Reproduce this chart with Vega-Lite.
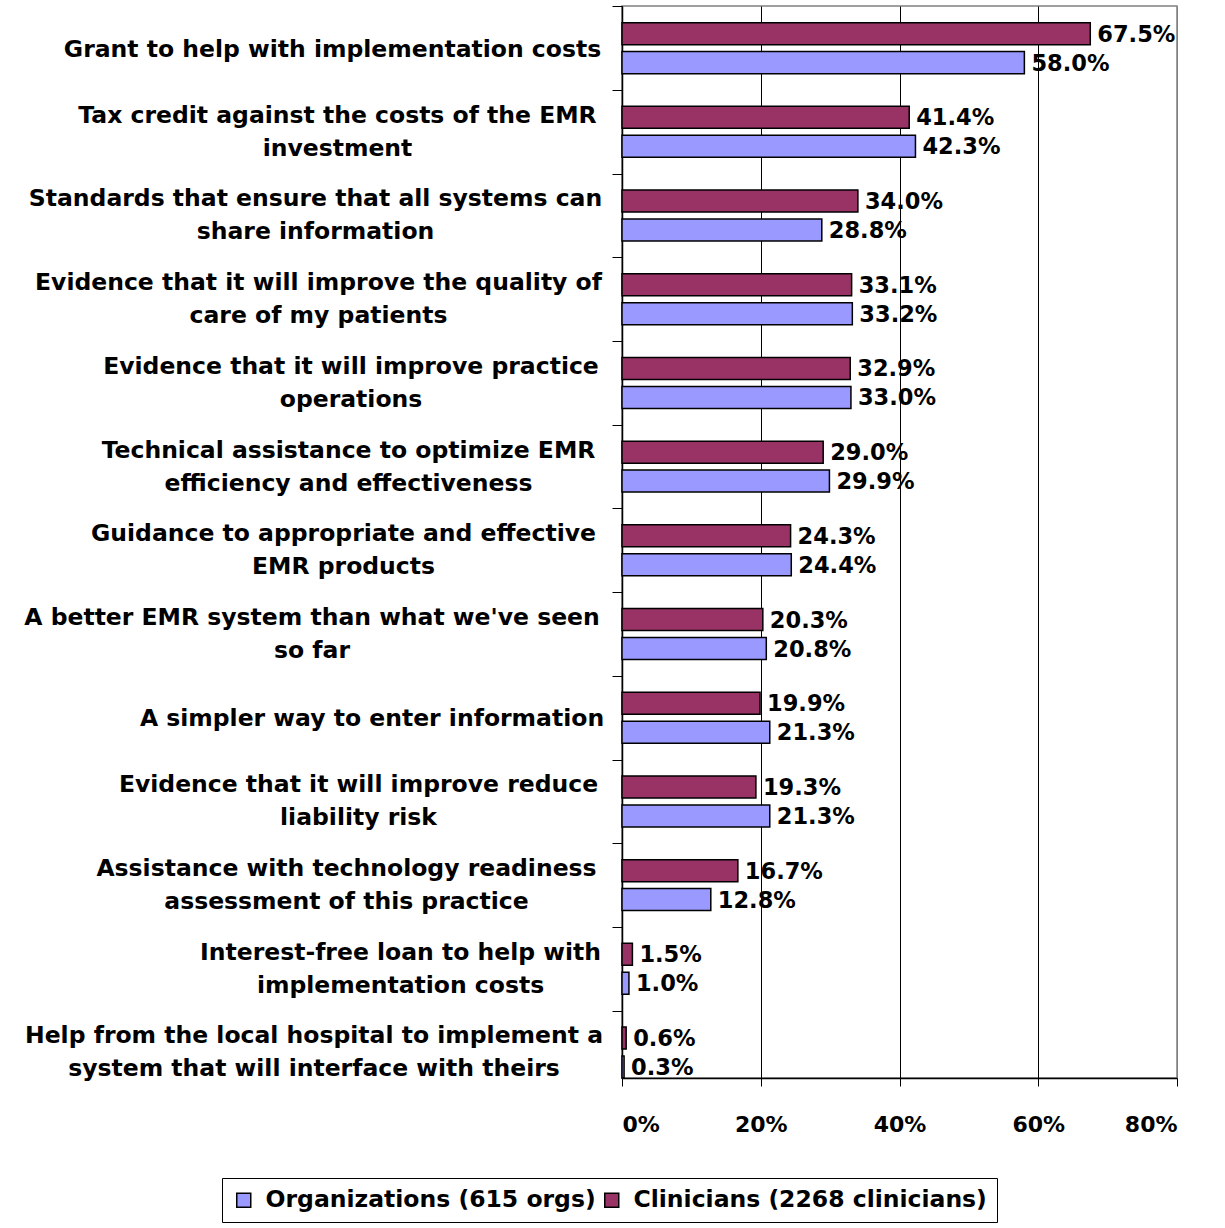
{
  "$schema": "https://vega.github.io/schema/vega-lite/v6.json",
  "autosize": {"type": "none"},
  "width": 555,
  "height": 1072,
  "padding": {"left": 622, "top": 6, "right": 48, "bottom": 150},
  "background": "white",
  "config": {
    "view": {"stroke": "#808080", "strokeWidth": 1.5},
    "font": "DejaVu Sans"
  },
  "data": {
    "values": [
      {"item": "Grant to help with implementation costs", "group": "Clinicians (2268 clinicians)", "value": 0.675},
      {"item": "Grant to help with implementation costs", "group": "Organizations (615 orgs)", "value": 0.580},
      {"item": "Tax credit against the costs of the EMR\ninvestment", "group": "Clinicians (2268 clinicians)", "value": 0.414},
      {"item": "Tax credit against the costs of the EMR\ninvestment", "group": "Organizations (615 orgs)", "value": 0.423},
      {"item": "Standards that ensure that all systems can\nshare information", "group": "Clinicians (2268 clinicians)", "value": 0.340},
      {"item": "Standards that ensure that all systems can\nshare information", "group": "Organizations (615 orgs)", "value": 0.288},
      {"item": "Evidence that it will improve the quality of\ncare of my patients", "group": "Clinicians (2268 clinicians)", "value": 0.331},
      {"item": "Evidence that it will improve the quality of\ncare of my patients", "group": "Organizations (615 orgs)", "value": 0.332},
      {"item": "Evidence that it will improve practice\noperations", "group": "Clinicians (2268 clinicians)", "value": 0.329},
      {"item": "Evidence that it will improve practice\noperations", "group": "Organizations (615 orgs)", "value": 0.330},
      {"item": "Technical assistance to optimize EMR\nefficiency and effectiveness", "group": "Clinicians (2268 clinicians)", "value": 0.290},
      {"item": "Technical assistance to optimize EMR\nefficiency and effectiveness", "group": "Organizations (615 orgs)", "value": 0.299},
      {"item": "Guidance to appropriate and effective\nEMR products", "group": "Clinicians (2268 clinicians)", "value": 0.243},
      {"item": "Guidance to appropriate and effective\nEMR products", "group": "Organizations (615 orgs)", "value": 0.244},
      {"item": "A better EMR system than what we've seen\nso far", "group": "Clinicians (2268 clinicians)", "value": 0.203},
      {"item": "A better EMR system than what we've seen\nso far", "group": "Organizations (615 orgs)", "value": 0.208},
      {"item": "A simpler way to enter information", "group": "Clinicians (2268 clinicians)", "value": 0.199},
      {"item": "A simpler way to enter information", "group": "Organizations (615 orgs)", "value": 0.213},
      {"item": "Evidence that it will improve reduce\nliability risk", "group": "Clinicians (2268 clinicians)", "value": 0.193},
      {"item": "Evidence that it will improve reduce\nliability risk", "group": "Organizations (615 orgs)", "value": 0.213},
      {"item": "Assistance with technology readiness\nassessment of this practice", "group": "Clinicians (2268 clinicians)", "value": 0.167},
      {"item": "Assistance with technology readiness\nassessment of this practice", "group": "Organizations (615 orgs)", "value": 0.128},
      {"item": "Interest-free loan to help with\nimplementation costs", "group": "Clinicians (2268 clinicians)", "value": 0.015},
      {"item": "Interest-free loan to help with\nimplementation costs", "group": "Organizations (615 orgs)", "value": 0.010},
      {"item": "Help from the local hospital to implement a\nsystem that will interface with theirs", "group": "Clinicians (2268 clinicians)", "value": 0.006},
      {"item": "Help from the local hospital to implement a\nsystem that will interface with theirs", "group": "Organizations (615 orgs)", "value": 0.003}
    ]
  },
  "encoding": {
    "y": {
      "field": "item", "type": "nominal", "sort": null,
      "scale": {"paddingInner": 0.391, "paddingOuter": 0.0995, "align": 1},
      "axis": {
        "title": null,
        "labelExpr": "isValid(datum.value) ? split(datum.value, '\\n') : ''",
        "labelFont": "DejaVu Sans",
        "labelFontWeight": "bold",
        "labelFontSize": 23.5,
        "labelColor": "black",
        "labelLineHeight": 33,
        "labelLimit": 800,
        "labelAlign": "center",
        "labelBaseline": "middle",
        "labelOffset": {
          "condition": [
            {"test": "!isValid(datum.value)", "value": 0},
            {"test": "indexof(datum.value, '\\n') >= 0", "value": 25.25}
          ],
          "value": 43
        },
        "labelPadding": {
          "condition": [
            {"test": "!isValid(datum.value)", "value": 240},
            {"test": "indexof(datum.value, 'Grant') == 0", "value": 280},
            {"test": "indexof(datum.value, 'Tax') == 0", "value": 275},
            {"test": "indexof(datum.value, 'Standards') == 0", "value": 297},
            {"test": "indexof(datum.value, 'Evidence that it will improve the') == 0", "value": 294},
            {"test": "indexof(datum.value, 'Evidence that it will improve practice') == 0", "value": 261.5},
            {"test": "indexof(datum.value, 'Technical') == 0", "value": 264},
            {"test": "indexof(datum.value, 'Guidance') == 0", "value": 269},
            {"test": "indexof(datum.value, 'A better') == 0", "value": 300.5},
            {"test": "indexof(datum.value, 'A simpler') == 0", "value": 240.5},
            {"test": "indexof(datum.value, 'Evidence that it will improve reduce') == 0", "value": 254},
            {"test": "indexof(datum.value, 'Assistance') == 0", "value": 266},
            {"test": "indexof(datum.value, 'Interest') == 0", "value": 212},
            {"test": "indexof(datum.value, 'Help') == 0", "value": 298.5}
          ],
          "value": 240
        },
        "tickOffset": -41.85,
        "tickSize": 10,
        "tickColor": "black",
        "tickWidth": 1,
        "domainColor": "black",
        "domainWidth": 1.5,
        "grid": false
      }
    },
    "yOffset": {
      "field": "group", "type": "nominal",
      "scale": {"domain": ["Clinicians (2268 clinicians)", "Organizations (615 orgs)"], "paddingInner": 0.24}
    },
    "x": {
      "field": "value", "type": "quantitative",
      "scale": {"domain": [0, 0.8], "nice": false},
      "axis": {
        "title": null,
        "values": [0, 0.2, 0.4, 0.6, 0.8],
        "format": ".0%",
        "labelFont": "DejaVu Sans",
        "labelFontWeight": "bold",
        "labelFontSize": 22,
        "labelColor": "black",
        "labelPadding": 28,
        "tickSize": 8,
        "tickColor": "black",
        "domainColor": "black",
        "domainWidth": 1.5,
        "grid": true,
        "gridColor": {"condition": {"test": "datum.value >= 0.79", "value": "#808080"}, "value": "black"},
        "gridWidth": 1,
        "gridOpacity": 1
      }
    }
  },
  "layer": [
    {
      "mark": {"type": "bar", "stroke": "black", "strokeWidth": 1.5},
      "encoding": {
        "color": {
          "field": "group", "type": "nominal",
          "scale": {"domain": ["Organizations (615 orgs)", "Clinicians (2268 clinicians)"], "range": ["#9999FF", "#993366"]},
          "legend": {
            "title": null,
            "orient": "none",
            "legendX": -400,
            "legendY": 1172,
            "direction": "horizontal",
            "strokeColor": "black",
            "fillColor": "white",
            "padding": 10,
            "labelFont": "DejaVu Sans",
            "labelFontWeight": "bold",
            "labelFontSize": 23.5,
            "labelColor": "black",
            "labelLimit": 600,
            "symbolType": "square",
            "symbolSize": 196,
            "symbolStrokeColor": "black",
            "symbolStrokeWidth": 1.5,
            "symbolOpacity": 1,
            "labelOffset": 10,
            "columnPadding": 4
          }
        }
      }
    },
    {
      "mark": {"type": "text", "align": "left", "baseline": "middle", "dx": 7, "dy": 1, "font": "DejaVu Sans", "fontWeight": "bold", "fontSize": 22.5, "color": "black"},
      "encoding": {
        "text": {"field": "value", "type": "quantitative", "format": ".1%"}
      }
    }
  ]
}
